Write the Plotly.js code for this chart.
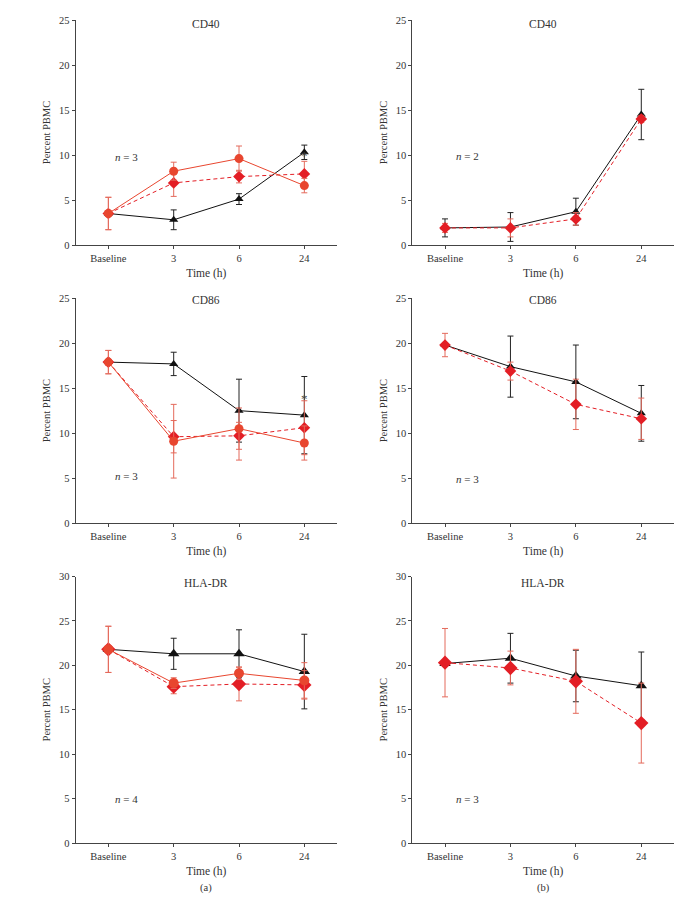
<!DOCTYPE html>
<html><head><meta charset="utf-8">
<script src="https://cdn.plot.ly/plotly-3.0.1.min.js"></script>
<style>html,body{margin:0;padding:0;background:#fff}#chart{width:681px;height:898px}</style>
</head><body><div id="chart"></div>
<script>
const categories = ['Baseline', '3', '6', '24'];

// (a) CD40, n = 3
const a1Tri = [3.5, 2.8, 5.1, 10.3];
const a1TriErr = [0, 1.1, 0.6, 0.8];
const a1Circ = [3.5, 8.2, 9.6, 6.6];
const a1CircErr = [1.8, 1.0, 1.4, 0.8];
const a1Dia = [3.5, 6.9, 7.6, 7.9];
const a1DiaErr = [1.8, 1.5, 0.7, 1.4];
// (b) CD40, n = 2
const b1Tri = [1.9, 2.0, 3.7, 14.5];
const b1TriErr = [1.0, 1.6, 1.5, 2.8];
const b1Dia = [1.9, 1.9, 2.9, 14.0];
const b1DiaErr = [0.5, 1.0, 0.7, 0.4];
// (a) CD86, n = 3
const a2Tri = [17.9, 17.7, 12.5, 12.0];
const a2TriErr = [0, 1.3, 3.5, 4.3];
const a2Circ = [17.9, 9.1, 10.5, 8.9];
const a2CircErrUp = [1.3, 4.1, 2.3, 1.9];
const a2CircErrDown = [1.3, 4.1, 3.5, 1.9];
const a2Dia = [17.9, 9.6, 9.7, 10.6];
const a2DiaErr = [1.3, 1.8, 1.5, 3.0];
// (b) CD86, n = 3
const b2Tri = [19.8, 17.4, 15.7, 12.2];
const b2TriErr = [0, 3.4, 4.1, 3.1];
const b2Dia = [19.8, 16.9, 13.2, 11.6];
const b2DiaErr = [1.3, 1.0, 2.8, 2.3];
// (a) HLA-DR, n = 4
const a3Tri = [21.8, 21.3, 21.3, 19.3];
const a3TriErr = [0, 1.75, 2.7, 4.2];
const a3Circ = [21.8, 18.0, 19.1, 18.3];
const a3CircErr = [2.6, 0.6, 0.7, 2.0];
const a3Dia = [21.8, 17.6, 17.9, 17.8];
const a3DiaErr = [2.6, 0.8, 1.9, 1.6];
// (b) HLA-DR, n = 3
const b3Tri = [20.2, 20.8, 18.8, 17.7];
const b3TriErr = [0, 2.8, 2.9, 3.8];
const b3Dia = [20.3, 19.7, 18.2, 13.5];
const b3DiaErr = [3.85, 1.9, 3.6, 4.5];

const panelTitles = ['CD40', 'CD40', 'CD86', 'CD86', 'HLA-DR', 'HLA-DR'];
const panelN = ['3', '2', '3', '3', '4', '3'];
const panelNY = [9.8, 9.9, 5.2, 4.9, 5.0, 5.0];
const panelTitleY = [24.6, 24.6, 24.8, 24.8, 29.3, 29.3];
const asterisks = [
  {panel: 1, x: '3', y: 9.9},
  {panel: 1, x: '6', y: 11.7},
  {panel: 3, x: '3', y: 13.8}
];

const BLACK = '#111111', CIRC = '#e8462f', DIA = '#e31e25', ERRRED = '#e46a5c';
const FONT = 'Liberation Serif, Times New Roman, serif';

function ax(i) { return i === 1 ? '' : String(i); }

function tri(i, y, err, sz) {
  return {x: categories, y: y, xaxis: 'x' + ax(i), yaxis: 'y' + ax(i), type: 'scatter', mode: 'lines+markers',
    line: {color: BLACK, width: 1}, marker: {symbol: 'triangle-up', size: sz, color: BLACK},
    error_y: {type: 'data', array: err, visible: true, color: '#222', thickness: 1, width: 3}, showlegend: false, cliponaxis: false};
}
function circ(i, y, up, down, sz) {
  return {x: categories, y: y, xaxis: 'x' + ax(i), yaxis: 'y' + ax(i), type: 'scatter', mode: 'lines+markers',
    line: {color: CIRC, width: 1}, marker: {symbol: 'circle', size: sz, color: CIRC},
    error_y: {type: 'data', symmetric: false, array: up, arrayminus: down, visible: true, color: ERRRED, thickness: 1, width: 3}, showlegend: false, cliponaxis: false};
}
function dia(i, y, err, sz) {
  return {x: categories, y: y, xaxis: 'x' + ax(i), yaxis: 'y' + ax(i), type: 'scatter', mode: 'lines+markers',
    line: {color: DIA, width: 1, dash: '4px,3px'}, marker: {symbol: 'diamond', size: sz, color: DIA},
    error_y: {type: 'data', array: err, visible: true, color: ERRRED, thickness: 1, width: 3}, showlegend: false, cliponaxis: false};
}

const data = [
  tri(1, a1Tri, a1TriErr, 8), dia(1, a1Dia, a1DiaErr, 9), circ(1, a1Circ, a1CircErr, a1CircErr, 9),
  tri(2, b1Tri, b1TriErr, 8), dia(2, b1Dia, b1DiaErr, 9),
  tri(3, a2Tri, a2TriErr, 8), dia(3, a2Dia, a2DiaErr, 9), circ(3, a2Circ, a2CircErrUp, a2CircErrDown, 9),
  tri(4, b2Tri, b2TriErr, 8), dia(4, b2Dia, b2DiaErr, 9),
  tri(5, a3Tri, a3TriErr, 10), dia(5, a3Dia, a3DiaErr, 11), circ(5, a3Circ, a3CircErr, a3CircErr, 10),
  tri(6, b3Tri, b3TriErr, 10), dia(6, b3Dia, b3DiaErr, 11)
];

const W = 681, H = 898;
const xDomL = [75.7 / W, 337 / W], xDomR = [412.3 / W, 674 / W];
const yDoms = [[1 - 245 / H, 1 - 20 / H], [1 - 523 / H, 1 - 298.3 / H], [1 - 843 / H, 1 - 576.5 / H]];
const yMax = [25, 25, 30];

const layout = {
  width: W, height: H, margin: {l: 0, r: 0, t: 0, b: 0},
  paper_bgcolor: '#fff', plot_bgcolor: '#fff',
  font: {family: FONT, size: 11, color: '#333'},
  annotations: []
};

for (let i = 1; i <= 6; i++) {
  const row = Math.floor((i - 1) / 2), left = (i % 2 === 1);
  layout['xaxis' + ax(i)] = {
    domain: left ? xDomL : xDomR, anchor: 'y' + ax(i), type: 'category',
    categoryorder: 'array', categoryarray: categories, range: [-0.5, 3.5],
    showline: true, linecolor: '#444', linewidth: 1, ticks: 'outside', ticklen: 3, tickcolor: '#444',
    showgrid: false, zeroline: false, tickfont: {family: FONT, size: 10.5, color: '#333'},
    title: {text: 'Time (h)', font: {family: FONT, size: 11.5, color: '#333'}, standoff: 6}
  };
  layout['yaxis' + ax(i)] = {
    domain: yDoms[row], anchor: 'x' + ax(i), range: [0, yMax[row]], dtick: 5,
    showline: true, linecolor: '#444', linewidth: 1, ticks: 'outside', ticklen: 3, tickcolor: '#444',
    showgrid: false, zeroline: false, tickfont: {family: FONT, size: 10.5, color: '#333'},
    title: {text: 'Percent PBMC', font: {family: FONT, size: 10.5, color: '#333'}, standoff: 6}
  };
  layout.annotations.push({xref: 'x' + ax(i) + ' domain', yref: 'y' + ax(i), x: 0.5, y: panelTitleY[i - 1],
    text: panelTitles[i - 1], showarrow: false, font: {family: FONT, size: 11.5, color: '#333', weight: 'normal'}});
  layout.annotations.push({xref: 'x' + ax(i), yref: 'y' + ax(i), x: left ? 0.27 : 0.35, y: panelNY[i - 1],
    text: '<i>n</i> = ' + panelN[i - 1], showarrow: false, font: {family: FONT, size: 11, color: '#333'}});
}
asterisks.forEach(a => {
  layout.annotations.push({xref: 'x' + ax(a.panel), yref: 'y' + ax(a.panel), x: a.x, y: a.y,
    text: '*', showarrow: false, font: {family: FONT, size: 13, color: '#444'}});
});
layout.annotations.push({xref: 'paper', yref: 'paper', x: 206 / W, y: 1 - 888 / H, xanchor: 'center', yanchor: 'middle',
  text: '(a)', showarrow: false, font: {family: FONT, size: 10.5, color: '#333'}});
layout.annotations.push({xref: 'paper', yref: 'paper', x: 543 / W, y: 1 - 888 / H, xanchor: 'center', yanchor: 'middle',
  text: '(b)', showarrow: false, font: {family: FONT, size: 10.5, color: '#333'}});

Plotly.newPlot('chart', data, layout, {staticPlot: true, displayModeBar: false});
</script></body></html>
